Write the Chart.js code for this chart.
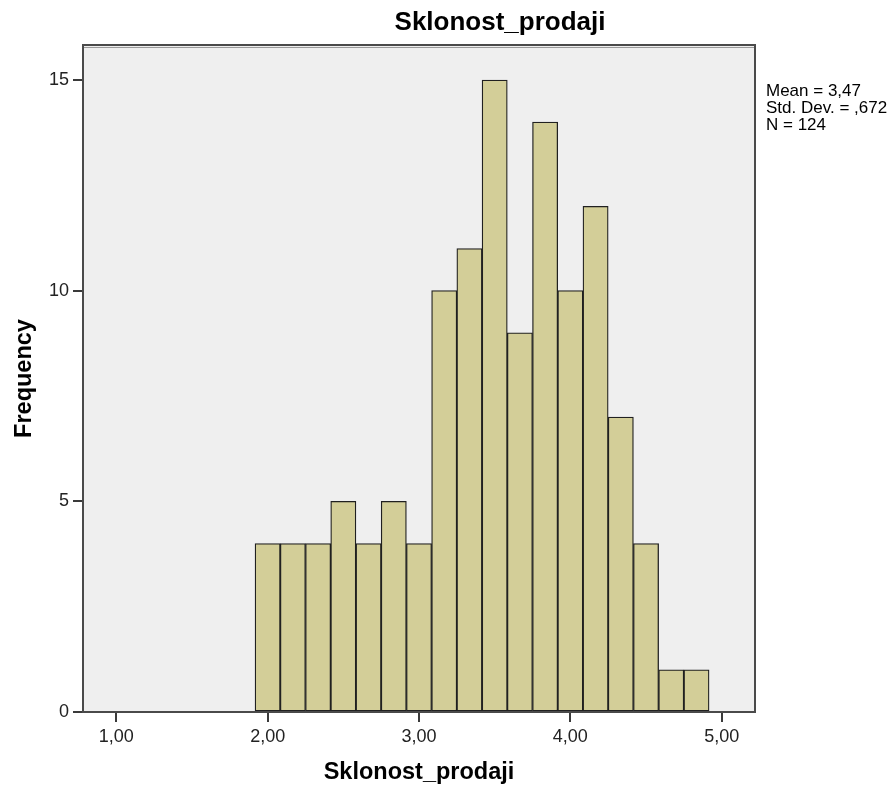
<!DOCTYPE html>
<html>
<head>
<meta charset="utf-8">
<script src="https://cdn.jsdelivr.net/npm/chart.js@4.4.0/dist/chart.umd.min.js"></script>
<style>
  html, body { margin: 0; padding: 0; background: #ffffff; }
  #wrap { width: 894px; height: 787px; position: relative; }
</style>
</head>
<body>
<div id="wrap"><canvas id="c" width="894" height="787"></canvas></div>
<script>
// ---- data ----
const binCenters = [2.0, 2.1667, 2.3333, 2.5, 2.6667, 2.8333, 3.0, 3.1667, 3.3333,
                    3.5, 3.6667, 3.8333, 4.0, 4.1667, 4.3333, 4.5, 4.6667, 4.8333];
const frequencies = [4, 4, 4, 5, 4, 5, 4, 10, 11, 15, 9, 14, 10, 12, 7, 4, 1, 1];
const xTickValues = [1, 2, 3, 4, 5];
const yTickValues = [0, 5, 10, 15];
const chartTitle = 'Sklonost_prodaji';
const xAxisTitle = 'Sklonost_prodaji';
const yAxisTitle = 'Frequency';
const statsLines = ['Mean = 3,47', 'Std. Dev. = ,672', 'N = 124'];

const FONT = "'Liberation Sans', Arial, sans-serif";

const decorPlugin = {
  id: 'decor',
  beforeDraw(chart) {
    const { ctx, chartArea: a } = chart;
    ctx.save();
    ctx.fillStyle = '#efefef';
    ctx.fillRect(a.left, a.top, a.right - a.left, a.bottom - a.top);
    ctx.restore();
  },
  afterDraw(chart) {
    const { ctx, chartArea: a } = chart;
    ctx.save();
    // frame
    ctx.strokeStyle = '#4a4a4a';
    ctx.lineWidth = 2;
    ctx.strokeRect(a.left, a.top, a.right - a.left, a.bottom - a.top);
    ctx.strokeStyle = '#9a9a9a';
    ctx.lineWidth = 1;
    ctx.beginPath();
    ctx.moveTo(a.left + 1, a.top + 2.5);
    ctx.lineTo(a.right - 1, a.top + 2.5);
    ctx.stroke();
    // title
    ctx.fillStyle = '#000';
    ctx.font = "bold 26px " + FONT;
    ctx.textAlign = 'center';
    ctx.textBaseline = 'middle';
    ctx.fillText(chartTitle, 500, 23);
    // stats
    ctx.font = "17px " + FONT;
    ctx.textAlign = 'left';
    ctx.textBaseline = 'alphabetic';
    statsLines.forEach((t, i) => ctx.fillText(t, a.right + 11, 96 + i * 17));
    ctx.restore();
  }
};

new Chart(document.getElementById('c'), {
  type: 'bar',
  data: {
    datasets: [{
      data: binCenters.map((x, i) => ({ x: x, y: frequencies[i] })),
      backgroundColor: '#d3ce98',
      borderColor: '#202020',
      borderWidth: 1.3,
      borderSkipped: false,
      barPercentage: 1.0,
      categoryPercentage: 1.0
    }]
  },
  options: {
    responsive: false,
    animation: false,
    devicePixelRatio: 1,
    layout: { padding: { top: 45, right: 139, left: 0, bottom: 0 } },
    plugins: {
      legend: { display: false },
      title: { display: false },
      tooltip: { enabled: false }
    },
    scales: {
      x: {
        type: 'linear',
        offset: false,
        min: 0.78,
        max: 5.22,
        afterBuildTicks: s => { s.ticks = xTickValues.map(v => ({ value: v })); },
        afterFit: s => { s.height = 75; },
        grid: { display: true, offset: false, drawOnChartArea: false, drawTicks: true, tickLength: 10, color: '#3a3a3a', lineWidth: 2 },
        border: { display: true, color: '#3a3a3a', width: 2 },
        ticks: {
          padding: 4,
          color: '#222',
          font: { family: FONT, size: 18 },
          callback: v => v.toFixed(2).replace('.', ',')
        },
        title: {
          display: true, text: xAxisTitle, color: '#000',
          font: { family: FONT, size: 23.5, weight: 'bold' },
          padding: { top: 0, bottom: 0 }
        }
      },
      y: {
        type: 'linear',
        min: 0,
        max: 15.83,
        afterBuildTicks: s => { s.ticks = yTickValues.map(v => ({ value: v })); },
        afterFit: s => { s.width = 83; },
        grid: { display: true, drawOnChartArea: false, drawTicks: true, tickLength: 10, color: '#3a3a3a', lineWidth: 2 },
        border: { display: true, color: '#3a3a3a', width: 2 },
        ticks: {
          padding: 4,
          color: '#222',
          font: { family: FONT, size: 18 },
          callback: v => String(v)
        },
        title: {
          display: true, text: yAxisTitle, color: '#000',
          font: { family: FONT, size: 23.5, weight: 'bold' },
          padding: { top: 10, bottom: 0 }
        }
      }
    }
  },
  plugins: [decorPlugin]
});
</script>
</body>
</html>
